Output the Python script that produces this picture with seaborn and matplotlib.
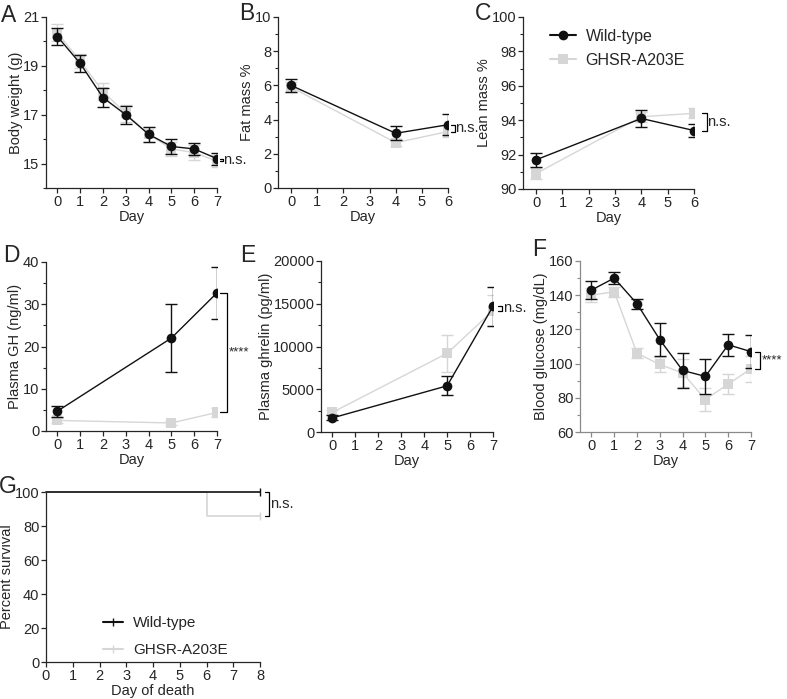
import matplotlib
matplotlib.use("Agg")
import matplotlib.pyplot as plt
import matplotlib.transforms as mtransforms
from matplotlib.lines import Line2D
from matplotlib.ticker import AutoMinorLocator
import pandas as pd
import seaborn as sns

WT = "Wild-type"
MUT = "GHSR-A203E"
WT_COLOR = "#111111"
MUT_COLOR = "#d6d6d6"

# A - body weight
bw_days = [0, 1, 2, 3, 4, 5, 6, 7]
bw_wt = [20.2, 19.1, 17.7, 17.0, 16.2, 15.7, 15.6, 15.2]
bw_wt_err = [0.35, 0.35, 0.4, 0.37, 0.3, 0.3, 0.25, 0.25]
bw_mut = [20.35, 19.2, 17.95, 17.05, 16.2, 15.6, 15.45, 15.1]
bw_mut_err = [0.35, 0.3, 0.35, 0.35, 0.3, 0.3, 0.3, 0.25]

# B / C - body composition
comp_days = [0, 4, 6]
fat_wt = [6.0, 3.2, 3.7]
fat_wt_err = [0.4, 0.4, 0.6]
fat_mut = [5.9, 2.65, 3.3]
fat_mut_err = [0.3, 0.2, 0.3]
lean_wt = [91.7, 94.1, 93.4]
lean_wt_err = [0.4, 0.5, 0.4]
lean_mut = [90.9, 94.2, 94.4]
lean_mut_err = [0.3, 0.3, 0.3]

# D / E - plasma hormones
horm_days = [0, 5, 7]
gh_wt = [4.7, 22.0, 32.7]
gh_wt_err = [1.3, 8.0, 6.2]
gh_mut = [2.5, 1.9, 4.4]
gh_mut_err = [0.5, 0.4, 1.0]
ghr_wt = [1650, 5400, 14700]
ghr_wt_err = [300, 1100, 2300]
ghr_mut = [2300, 9200, 14200]
ghr_mut_err = [300, 2200, 1800]

# F - blood glucose
glu_days = [0, 1, 2, 3, 4, 5, 6, 7]
glu_wt = [143, 150, 135, 114, 96, 92.5, 111, 107]
glu_wt_err = [5.5, 3.5, 3.0, 9.5, 10, 10, 6.5, 9.5]
glu_mut = [140, 142, 106, 99.5, 94.5, 79, 88, 97]
glu_mut_err = [4, 3, 3, 4.5, 8, 6.5, 6, 7.5]

# G - survival
surv_wt_days = [0, 8]
surv_wt = [100, 100]
surv_mut_days = [0, 6, 8]
surv_mut = [100, 85.7, 85.7]

W, H, DPI = 787, 699, 100

sns.set_theme(style="ticks")
plt.rcParams["font.family"] = ["Liberation Sans", "DejaVu Sans"]
plt.rcParams.update({
    "font.size": 10.5,
    "axes.labelsize": 10.5,
    "xtick.labelsize": 10.5,
    "ytick.labelsize": 10.5,
    "axes.linewidth": 0.9,
    "xtick.major.width": 0.9,
    "ytick.major.width": 0.9,
    "xtick.major.size": 3.5,
    "ytick.major.size": 3.5,
    "ytick.minor.size": 2,
    "ytick.minor.width": 0.8,
    "xtick.major.pad": 1.5,
    "ytick.major.pad": 1.2,
    "axes.labelpad": 1,
})

fig = plt.figure(figsize=(W / DPI, H / DPI), dpi=DPI)


def px_axes(x0, x1, y0, y1):
    return fig.add_axes([x0 / W, 1 - y1 / H, (x1 - x0) / W, (y1 - y0) / H])


def panel(ax, days, wt, wt_err, mut, mut_err):
    df = pd.DataFrame({
        "day": list(days) * 2,
        "value": list(mut) + list(wt),
        "genotype": [MUT] * len(days) + [WT] * len(days),
    })
    ax.errorbar(days, mut, yerr=mut_err, fmt="none", ecolor=MUT_COLOR,
                elinewidth=1, capsize=4, capthick=1, zorder=2)
    sns.lineplot(data=df, x="day", y="value", hue="genotype", style="genotype",
                 hue_order=[MUT, WT], style_order=[MUT, WT],
                 palette={WT: WT_COLOR, MUT: MUT_COLOR},
                 markers={WT: "o", MUT: "s"}, dashes=False,
                 markersize=7, markeredgewidth=0, linewidth=1,
                 legend=False, ax=ax, zorder=3)
    ax.errorbar(days, wt, yerr=wt_err, fmt="none", ecolor=WT_COLOR,
                elinewidth=1, capsize=4, capthick=1, zorder=4)
    ax.set_xticks(range(0, int(max(days)) + 1))
    ax.set_xlim(-0.5, max(days))
    ax.yaxis.set_minor_locator(AutoMinorLocator(2))
    sns.despine(ax=ax)


def labels(ax, xlabel, ylabel):
    ax.set_xlabel(xlabel)
    ax.set_ylabel(ylabel, labelpad=0.5)


def bracket(ax, y_top, y_bot, text, x0px, x1px, tx_px, fs=10.5):
    bb = ax.get_position()
    wpx = bb.width * W
    tr = mtransforms.blended_transform_factory(ax.transAxes, ax.transData)
    xa, xb = 1 + x0px / wpx, 1 + x1px / wpx
    ax.plot([xa, xb, xb, xa], [y_top, y_top, y_bot, y_bot], color="black",
            lw=0.9, transform=tr, clip_on=False)
    ax.text(1 + tx_px / wpx, (y_top + y_bot) / 2, text, transform=tr,
            ha="left", va="center", fontsize=fs)


def letter(x, y, s):
    # x = left edge, y = baseline, in pixels from the top-left corner
    fig.text(x / W, 1 - y / H, s, fontsize=16.5, ha="left", va="baseline")


# A
axA = px_axes(46, 217, 17, 188)
panel(axA, bw_days, bw_wt, bw_wt_err, bw_mut, bw_mut_err)
axA.set_ylim(14, 21)
axA.set_yticks([15, 17, 19, 21])
labels(axA, "Day", "Body weight (g)")
bracket(axA, bw_wt[-1], bw_mut[-1], "n.s.", 3, 6, 6)

# B
axB = px_axes(278, 448, 17, 188)
panel(axB, comp_days, fat_wt, fat_wt_err, fat_mut, fat_mut_err)
axB.set_ylim(0, 10)
axB.set_yticks(range(0, 11, 2))
labels(axB, "Day", "Fat mass %")
bracket(axB, fat_wt[-1], fat_mut[-1], "n.s.", 3, 7, 7)

# C
axC = px_axes(523, 694, 17, 189)
panel(axC, comp_days, lean_wt, lean_wt_err, lean_mut, lean_mut_err)
axC.set_ylim(90, 100)
axC.set_yticks(range(90, 101, 2))
labels(axC, "Day", "Lean mass %")
bracket(axC, lean_mut[-1], lean_wt[-1], "n.s.", 8, 13, 13)
handles = [
    Line2D([], [], color=WT_COLOR, marker="o", markersize=7, lw=1.5, markeredgewidth=0),
    Line2D([], [], color=MUT_COLOR, marker="s", markersize=7, lw=1.5, markeredgewidth=0),
]
axC.legend(handles, [WT, MUT], loc="upper left", bbox_to_anchor=(0.16, 0.93),
           frameon=False, fontsize=11.5, borderpad=0, borderaxespad=0,
           handlelength=1.6, handletextpad=0.6, labelspacing=0.55)

# D
axD = px_axes(46, 217, 262, 431)
panel(axD, horm_days, gh_wt, gh_wt_err, gh_mut, gh_mut_err)
axD.set_ylim(0, 40)
axD.set_yticks(range(0, 41, 10))
labels(axD, "Day", "Plasma GH (ng/ml)")
bracket(axD, gh_wt[-1], gh_mut[-1], "****", 3, 10, 12, fs=9.5)

# E
axE = px_axes(321, 493, 261, 432)
panel(axE, horm_days, ghr_wt, ghr_wt_err, ghr_mut, ghr_mut_err)
axE.set_ylim(0, 20000)
axE.set_yticks(range(0, 20001, 5000))
labels(axE, "Day", "Plasma ghrelin (pg/ml)")
bracket(axE, ghr_wt[-1], ghr_mut[-1], "n.s.", 5, 9, 10)

# F
axF = px_axes(580, 751, 261, 432)
panel(axF, glu_days, glu_wt, glu_wt_err, glu_mut, glu_mut_err)
axF.set_ylim(60, 160)
axF.set_yticks(range(60, 161, 20))
labels(axF, "Day", "Blood glucose (mg/dL)")
for sp in ("left", "bottom"):
    axF.spines[sp].set_color("#8a8a8a")
axF.tick_params(which="both", color="#8a8a8a")
bracket(axF, glu_wt[-1], glu_mut[-1], "****", 4, 9, 11, fs=9.5)

# G
axG = px_axes(46, 260, 492, 662)
surv = pd.DataFrame({
    "day": surv_mut_days + surv_wt_days,
    "pct": surv_mut + surv_wt,
    "genotype": [MUT] * len(surv_mut_days) + [WT] * len(surv_wt_days),
})
sns.lineplot(data=surv, x="day", y="pct", hue="genotype", hue_order=[MUT, WT],
             palette={WT: WT_COLOR, MUT: MUT_COLOR}, drawstyle="steps-post",
             linewidth=1.2, legend=False, ax=axG)
axG.plot([surv_wt_days[-1]], [surv_wt[-1]], marker="|", color=WT_COLOR,
         markersize=6, clip_on=False)
axG.plot([surv_mut_days[-1]], [surv_mut[-1]], marker="|", color=MUT_COLOR,
         markersize=6, clip_on=False)
axG.set_xlim(0, 8)
axG.set_ylim(0, 100)
axG.set_xticks(range(0, 9))
axG.set_yticks(range(0, 101, 20))
labels(axG, "Day of death", "Percent survival")
sns.despine(ax=axG)
for ln in axG.lines:
    ln.set_clip_on(False)
bracket(axG, surv_wt[-1], surv_mut[-1], "n.s.", 5, 9, 10)
g_handles = [
    Line2D([], [], color=WT_COLOR, marker="|", markersize=6, lw=1.5),
    Line2D([], [], color=MUT_COLOR, marker="|", markersize=6, lw=1.5),
]
axG.legend(g_handles, [WT, MUT], loc="upper left", bbox_to_anchor=(0.265, 0.27),
           frameon=False, fontsize=11, borderpad=0, borderaxespad=0,
           handlelength=1.3, handletextpad=0.7, labelspacing=0.85)

letter(1, 22, "A")
letter(239, 20, "B")
letter(475, 20, "C")
letter(3, 262, "D")
letter(240, 262, "E")
letter(532, 256, "F")
letter(-1, 493, "G")

fig.savefig("out.png", dpi=DPI)
